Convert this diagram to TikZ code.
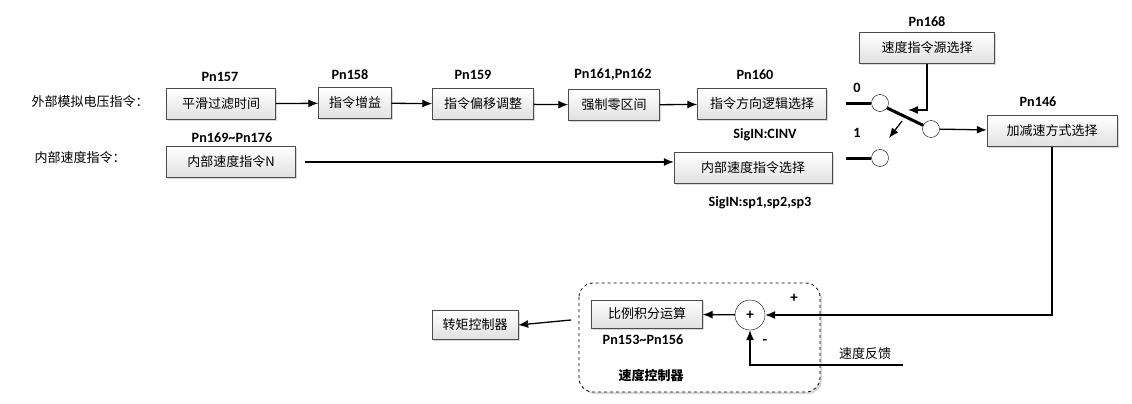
\documentclass[tikz,border=0pt]{standalone}
\usepackage{fontspec}
\setmainfont{Carlito}
\newfontfamily\cjk{Noto Sans CJK SC}
\usetikzlibrary{arrows.meta,shadows}

\tikzset{
  blk/.style={draw=black!70, top color=white, bottom color=black!12,
    drop shadow={opacity=0.3, shadow xshift=1.5pt, shadow yshift=-1.5pt},
    minimum height=31, inner xsep=4, font=\cjk\fontsize{13}{15}\selectfont},
  pn/.style={font=\bfseries\fontsize{14.2}{16}\selectfont},
  side/.style={font=\cjk\fontsize{13}{15}\selectfont},
  sw/.style={draw, circle, minimum size=17, inner sep=0pt, fill=white},
  arr/.style={-{Latex[length=10,width=8]}, line width=1.3pt},
  fat/.style={line width=3pt},
}

\begin{document}
\begin{tikzpicture}[x=1pt, y=-1pt]
    \useasboundingbox (0,0) rectangle (1132,404);
        % speed controller frame
        \draw[dashed, thick, rounded corners=14, fill=white,
          drop shadow={opacity=0.3, shadow xshift=2pt, shadow yshift=-2pt}] (579,283) rectangle (820,392);
        \node[font=\cjk\bfseries\fontsize{13}{15}\selectfont] (ctrllbl) at (651,376) {速度控制器};

        % command chain
        \node[side] (extlbl) at (90,102) {外部模拟电压指令：};
        \node[side] (intlbl) at (80,158) {内部速度指令：};
        \node[blk, minimum width=109] (smooth) at (221,104) {平滑过滤时间};
        \node[blk, minimum width=73] (gain) at (355,103) {指令增益};
        \node[blk, minimum width=101] (offset) at (483,104) {指令偏移调整};
        \node[blk, minimum width=91] (zero) at (614,105) {强制零区间};
        \node[blk, minimum width=129] (dir) at (762,104) {指令方向逻辑选择};
        \node[blk, minimum width=129] (inner) at (231,162) {内部速度指令N};
        \node[blk, minimum width=158] (innersel) at (753,168) {内部速度指令选择};
        \node[blk, minimum width=135] (src) at (927,48) {速度指令源选择};
        \node[blk, minimum width=130] (acc) at (1052,131) {加减速方式选择};
        \node[blk, minimum width=111, minimum height=28] (pi) at (647,314) {比例积分运算};
        \node[blk, minimum width=86, minimum height=29] (torque) at (475,325) {转矩控制器};

        \node[pn] at (220,77) {Pn157};
        \node[pn] at (350,75) {Pn158};
        \node[pn] at (473,75) {Pn159};
        \node[pn] at (613,75) {Pn161,Pn162};
        \node[pn] at (755,75) {Pn160};
        \node[pn] at (765,135) {SigIN:CINV};
        \node[pn] at (232,138) {Pn169\textasciitilde Pn176};
        \node[pn] at (760,203) {SigIN:sp1,sp2,sp3};
        \node[pn] at (927,22) {Pn168};
        \node[pn] at (1038,102) {Pn146};
        \node[pn] at (643,340) {Pn153\textasciitilde Pn156};

        \draw[arr] (smooth) -- (gain);
        \draw[arr] (gain) -- (offset);
        \draw[arr] (offset) -- (zero);
        \draw[arr] (zero) -- (dir);
        \draw[arr, shorten <=9pt] (inner.east) -- (inner.east -| innersel.west);

        % switch
        \coordinate (in0) at (846,103);
        \coordinate (in1) at (846,158);
        \coordinate (ctl) at (908,110);
        \coordinate (turnA) at (902,121);
        \coordinate (turnB) at (889,138);
        \node[sw] (s0) at (880,103) {};
        \node[sw] (s1) at (880,158) {};
        \node[sw] (sout) at (931,129) {};
        \node[pn] at (857,88) {0};
        \node[pn] at (857,133) {1};
        \draw[fat] (in0) -- (s0);
        \draw[fat] (in1) -- (s1);
        \draw[fat] (s0.-35) -- (sout.155);
        \draw[arr] (src.south) |- (ctl);
        \draw[arr] (turnA) -- (turnB);
        \draw[arr] (sout) -- (acc);

        % speed loop
        \node[draw, circle, minimum size=30, inner sep=0pt, fill=white,
          font=\bfseries\fontsize{15}{15}\selectfont] (sum) at (750,315) {+};
        \node[pn, font=\bfseries\fontsize{15}{15}\selectfont] at (794,298) {+};
        \node[pn, font=\bfseries\fontsize{15}{15}\selectfont] at (765,342) {-};
        \coordinate (fb) at (903,365);
        \coordinate (ctrlout) at (571,320);
        \node[side] (fblbl) at (865,354) {速度反馈};
        \draw[arr] (acc.south) |- (sum.east);
        \draw[arr] (sum) -- (pi);
        \draw[arr] (fb) -| (sum.south);
        \draw[arr] (ctrlout) -- (torque.east);
    \end{tikzpicture}
\end{document}
